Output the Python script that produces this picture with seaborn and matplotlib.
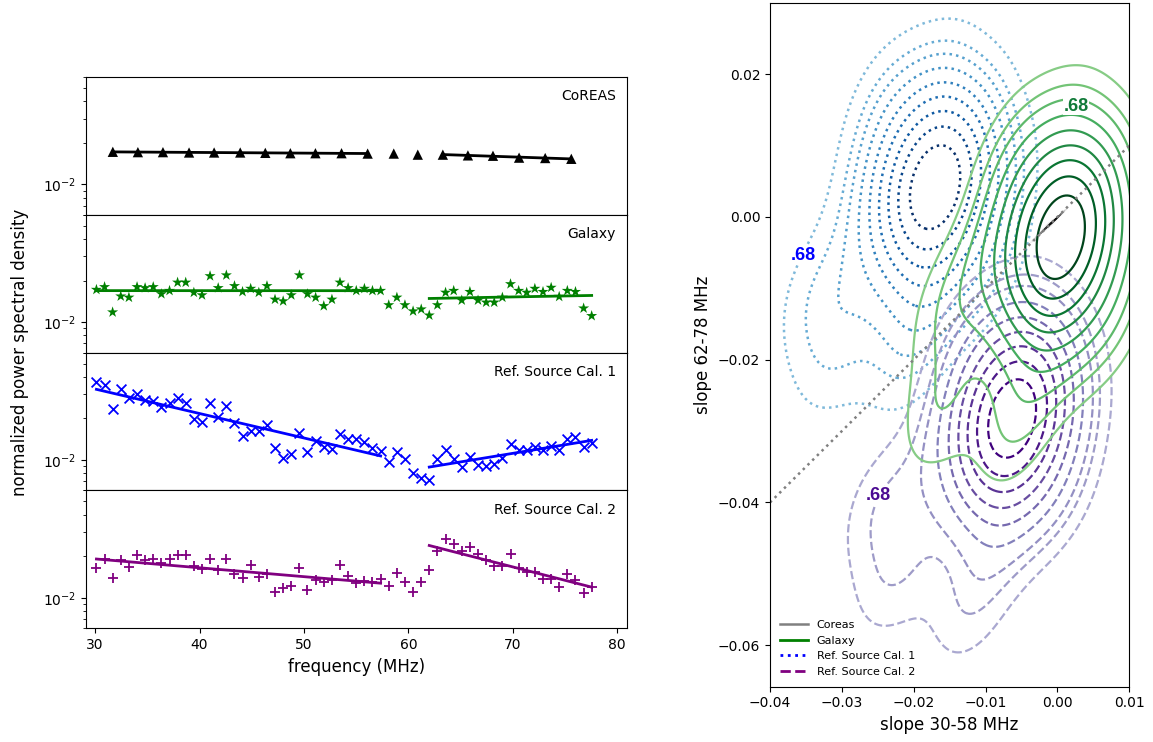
import numpy as np
import matplotlib
matplotlib.use("Agg")
import matplotlib.pyplot as plt
from matplotlib.colors import LinearSegmentedColormap
from matplotlib.lines import Line2D
from matplotlib.ticker import NullFormatter
import seaborn as sns

# ---------------- left: normalized power spectra ----------------
coreas_freq = [31.7, 34.1, 36.5, 39.0, 41.4, 43.9, 46.3, 48.7, 51.1, 53.6,
               56.1, 58.6, 60.9, 63.3, 65.7, 68.1, 70.6, 73.1, 75.6]
coreas_psd = [1.72, 1.71, 1.71, 1.70, 1.70, 1.70, 1.69, 1.68, 1.68, 1.68,
              1.67, 1.67, 1.64, 1.64, 1.62, 1.61, 1.56, 1.55, 1.53]  # x 1e-2

freq = [30.13, 30.91, 31.68, 32.46, 33.24, 34.02, 34.79, 35.57, 36.35, 37.13,
        37.90, 38.68, 39.46, 40.24, 41.01, 41.79, 42.57, 43.35, 44.12, 44.90,
        45.68, 46.46, 47.23, 48.01, 48.79, 49.57, 50.34, 51.12, 51.90, 52.68,
        53.45, 54.23, 55.01, 55.79, 56.56, 57.34, 58.12, 58.90, 59.67, 60.45,
        61.23, 62.00, 62.78, 63.56, 64.34, 65.11, 65.89, 66.67, 67.45, 68.22,
        69.00, 69.78, 70.56, 71.33, 72.11, 72.89, 73.67, 74.44, 75.22, 76.00,
        76.78, 77.55]

galaxy_psd = [1.72, 1.80, 1.18, 1.54, 1.51, 1.80, 1.77, 1.80, 1.60, 1.69,
              1.94, 1.94, 1.64, 1.57, 2.16, 1.77, 2.19, 1.83, 1.66, 1.75,
              1.64, 1.83, 1.46, 1.42, 1.57, 2.19, 1.60, 1.51, 1.31, 1.46,
              1.94, 1.77, 1.69, 1.75, 1.69, 1.69, 1.33, 1.51, 1.33, 1.20,
              1.24, 1.12, 1.33, 1.64, 1.69, 1.44, 1.66, 1.44, 1.39, 1.39,
              1.51, 1.89, 1.69, 1.64, 1.75, 1.66, 1.78, 1.53, 1.69, 1.66,
              1.26, 1.11]

cal1_psd = [3.66, 3.50, 2.34, 3.25, 2.83, 3.01, 2.72, 2.69, 2.44, 2.60,
            2.80, 2.60, 1.98, 1.88, 2.57, 2.06, 2.48, 1.84, 1.50, 1.61,
            1.61, 1.79, 1.23, 1.03, 1.11, 1.58, 1.14, 1.38, 1.25, 1.20,
            1.54, 1.42, 1.41, 1.36, 1.22, 1.16, 0.96, 1.15, 1.02, 0.80,
            0.74, 0.72, 1.01, 1.18, 1.02, 0.89, 1.05, 0.92, 0.90, 0.93,
            1.03, 1.31, 1.18, 1.18, 1.24, 1.18, 1.27, 1.18, 1.41, 1.46,
            1.25, 1.32]

cal2_psd = [1.64, 1.92, 1.39, 1.87, 1.67, 2.05, 1.87, 1.92, 1.78, 1.92,
            2.03, 2.03, 1.69, 1.62, 1.92, 1.60, 1.92, 1.49, 1.39, 1.73,
            1.41, 1.49, 1.11, 1.18, 1.22, 1.64, 1.14, 1.35, 1.30, 1.35,
            1.72, 1.44, 1.28, 1.33, 1.30, 1.37, 1.22, 1.51, 1.30, 1.11,
            1.30, 1.58, 2.20, 2.68, 2.46, 2.17, 2.33, 2.08, 1.87, 1.69,
            1.69, 2.08, 1.64, 1.54, 1.54, 1.37, 1.37, 1.20, 1.48, 1.35,
            1.09, 1.20]

fit_bands = [(30.0, 58.0), (61.9, 78.0)]
panel_names = ["CoREAS", "Galaxy", "Ref. Source Cal. 1", "Ref. Source Cal. 2"]

# ---------------- right: fitted slopes (30-58 MHz, 62-78 MHz) ----------------
coreas_s1 = [-0.0031, -0.0025, -0.0020, -0.0016, -0.0013, -0.0010, -0.0008,
             -0.0005, -0.0002, 0.0002, 0.0006, -0.0012, -0.0009]
coreas_s2 = [-0.0030, -0.0025, -0.0019, -0.0016, -0.0012, -0.0010, -0.0008,
             -0.0006, -0.0003, 0.0001, 0.0005, -0.0009, -0.0012]

galaxy_s1 = [0.0005, 0.0005, 0.0037, 0.0037, 0.0005, -0.0027, -0.0027,
             0.0084, 0.0053, 0.0005, -0.0061, -0.0074, -0.0043, 0.0005, 0.0071,
             -0.0150, -0.0060, -0.0165]
galaxy_s2 = [-0.0028, 0.0039, 0.0006, -0.0062, -0.0095, -0.0062, 0.0006,
             -0.0028, 0.0059, 0.0114, 0.0089, -0.0028, -0.0115, -0.0170, -0.0145,
             -0.0120, -0.0300, -0.0275]

cal1_s1 = [-0.0170, -0.0170, -0.0135, -0.0135, -0.0170, -0.0205, -0.0205,
           -0.0084, -0.0117, -0.0170, -0.0241, -0.0256, -0.0223, -0.0170, -0.0099,
           -0.0335, -0.0310, -0.0210]
cal1_s2 = [0.0043, 0.0110, 0.0077, 0.0009, -0.0024, 0.0009, 0.0077,
           0.0043, 0.0130, 0.0185, 0.0160, 0.0043, -0.0044, -0.0099, -0.0074,
           -0.0105, -0.0195, -0.0195]

cal2_s1 = [-0.0063, -0.0063, -0.0032, -0.0032, -0.0063, -0.0094, -0.0094,
           0.0013, -0.0016, -0.0063, -0.0126, -0.0139, -0.0110, -0.0063, 0.0000,
           -0.0245, -0.0225, -0.0120]
cal2_s2 = [-0.0282, -0.0219, -0.0251, -0.0313, -0.0345, -0.0313, -0.0251,
           -0.0282, -0.0201, -0.0150, -0.0173, -0.0282, -0.0363, -0.0414, -0.0391,
           -0.0400, -0.0505, -0.0545]

# where the .68 contour labels sit
label68_x = [-0.0354, 0.0026, -0.0249]
label68_y = [-0.0054, 0.0155, -0.0390]
label68_colors = ["#0000ff", "#107a38", "#4b0a92"]

kde_levels = [0.1, 0.2, 0.3, 0.4, 0.5, 0.6, 0.7, 0.8, 0.9]


def trunc_cmap(name, lo=0.45):
    base = plt.get_cmap(name)
    return LinearSegmentedColormap.from_list(name + "_t", base(np.linspace(lo, 1.0, 256)))


def draw_spectrum(ax, f, psd, color, marker, size, label):
    f = np.asarray(f)
    p = np.asarray(psd) * 1e-2
    edge = "none" if marker in ("^", "*") else None
    sns.scatterplot(x=f, y=p, ax=ax, color=color, marker=marker, s=size,
                    edgecolor=edge, linewidth=1.3, zorder=3)
    # straight line fit in log space over each band
    for lo, hi in fit_bands:
        m = (f >= lo) & (f <= hi)
        coef = np.polyfit(f[m], np.log10(p[m]), 1)
        sns.lineplot(x=f[m], y=10 ** np.polyval(coef, f[m]), ax=ax,
                     color=color, lw=2, zorder=2)
    ax.set_yscale("log")
    ax.set_ylim(6e-3, 6e-2)
    ax.set_xlim(29.1, 80.9)
    ax.yaxis.set_minor_formatter(NullFormatter())
    ax.text(0.98, 0.862, label, transform=ax.transAxes, ha="right", va="center", fontsize=10)


fig = plt.figure(figsize=(11.53, 7.42), dpi=100)

left, width = 0.0743, 0.4692
bottom, height = 0.1532, 0.18575
styles = [
    (coreas_freq, coreas_psd, "black", "^", 55),
    (freq, galaxy_psd, "green", "*", 70),
    (freq, cal1_psd, "blue", "x", 50),
    (freq, cal2_psd, "purple", "+", 60),
]
axes = []
for i, (f, p, c, mk, sz) in enumerate(styles):
    ax = fig.add_axes([left, bottom + (3 - i) * height, width, height])
    draw_spectrum(ax, f, p, c, mk, sz, panel_names[i])
    if i < 3:
        ax.tick_params(axis="x", which="both", bottom=False, labelbottom=False)
    axes.append(ax)

axes[-1].set_xticks([30, 40, 50, 60, 70, 80])
axes[-1].set_xlabel("frequency (MHz)", fontsize=12)
fig.text(0.0175, bottom + 2 * height, "normalized power spectral density",
         rotation=90, ha="center", va="center", fontsize=12)

# ---------------- right panel ----------------
axr = fig.add_axes([0.6678, 0.0745, 0.3117, 0.921])

sns.kdeplot(x=cal1_s1, y=cal1_s2, ax=axr, levels=kde_levels, bw_adjust=1.1,
            cmap=trunc_cmap("Blues"), linestyles=":", linewidths=1.8)
sns.kdeplot(x=cal2_s1, y=cal2_s2, ax=axr, levels=kde_levels, bw_adjust=1.1,
            cmap=trunc_cmap("Purples"), linestyles="--", linewidths=1.6)
sns.kdeplot(x=galaxy_s1, y=galaxy_s2, ax=axr, levels=kde_levels, bw_adjust=1.1,
            cmap=trunc_cmap("Greens"), linestyles="-", linewidths=1.6)
sns.kdeplot(x=coreas_s1, y=coreas_s2, ax=axr, levels=kde_levels + [1.0],
            cmap="Greys", fill=True)

# equal-slope reference line
xlim = (-0.04, 0.01)
sns.lineplot(x=list(xlim), y=list(xlim), ax=axr, color="gray", linestyle=":", lw=1.8)

for x, y, c in zip(label68_x, label68_y, label68_colors):
    axr.text(x, y, ".68", color=c, fontsize=13, fontweight="bold",
             family=["Liberation Sans", "DejaVu Sans"], ha="center", va="center",
             bbox=dict(facecolor="white", edgecolor="none", pad=0.5))

axr.set_xlim(*xlim)
axr.set_ylim(-0.0658, 0.0299)
axr.set_xticks([-0.04, -0.03, -0.02, -0.01, 0.00, 0.01])
axr.set_yticks([-0.06, -0.04, -0.02, 0.00, 0.02])
axr.set_xlabel("slope 30-58 MHz", fontsize=12)
axr.set_ylabel("slope 62-78 MHz", fontsize=12)

handles = [
    Line2D([], [], color="gray", lw=1.8, ls="-"),
    Line2D([], [], color="green", lw=2, ls="-"),
    Line2D([], [], color="blue", lw=2, ls=":"),
    Line2D([], [], color="purple", lw=2, ls="--"),
]
axr.legend(handles, ["Coreas", "Galaxy", "Ref. Source Cal. 1", "Ref. Source Cal. 2"],
           loc="lower left", fontsize=8, frameon=False, handlelength=2.5)

fig.savefig("out.png", dpi=100)
